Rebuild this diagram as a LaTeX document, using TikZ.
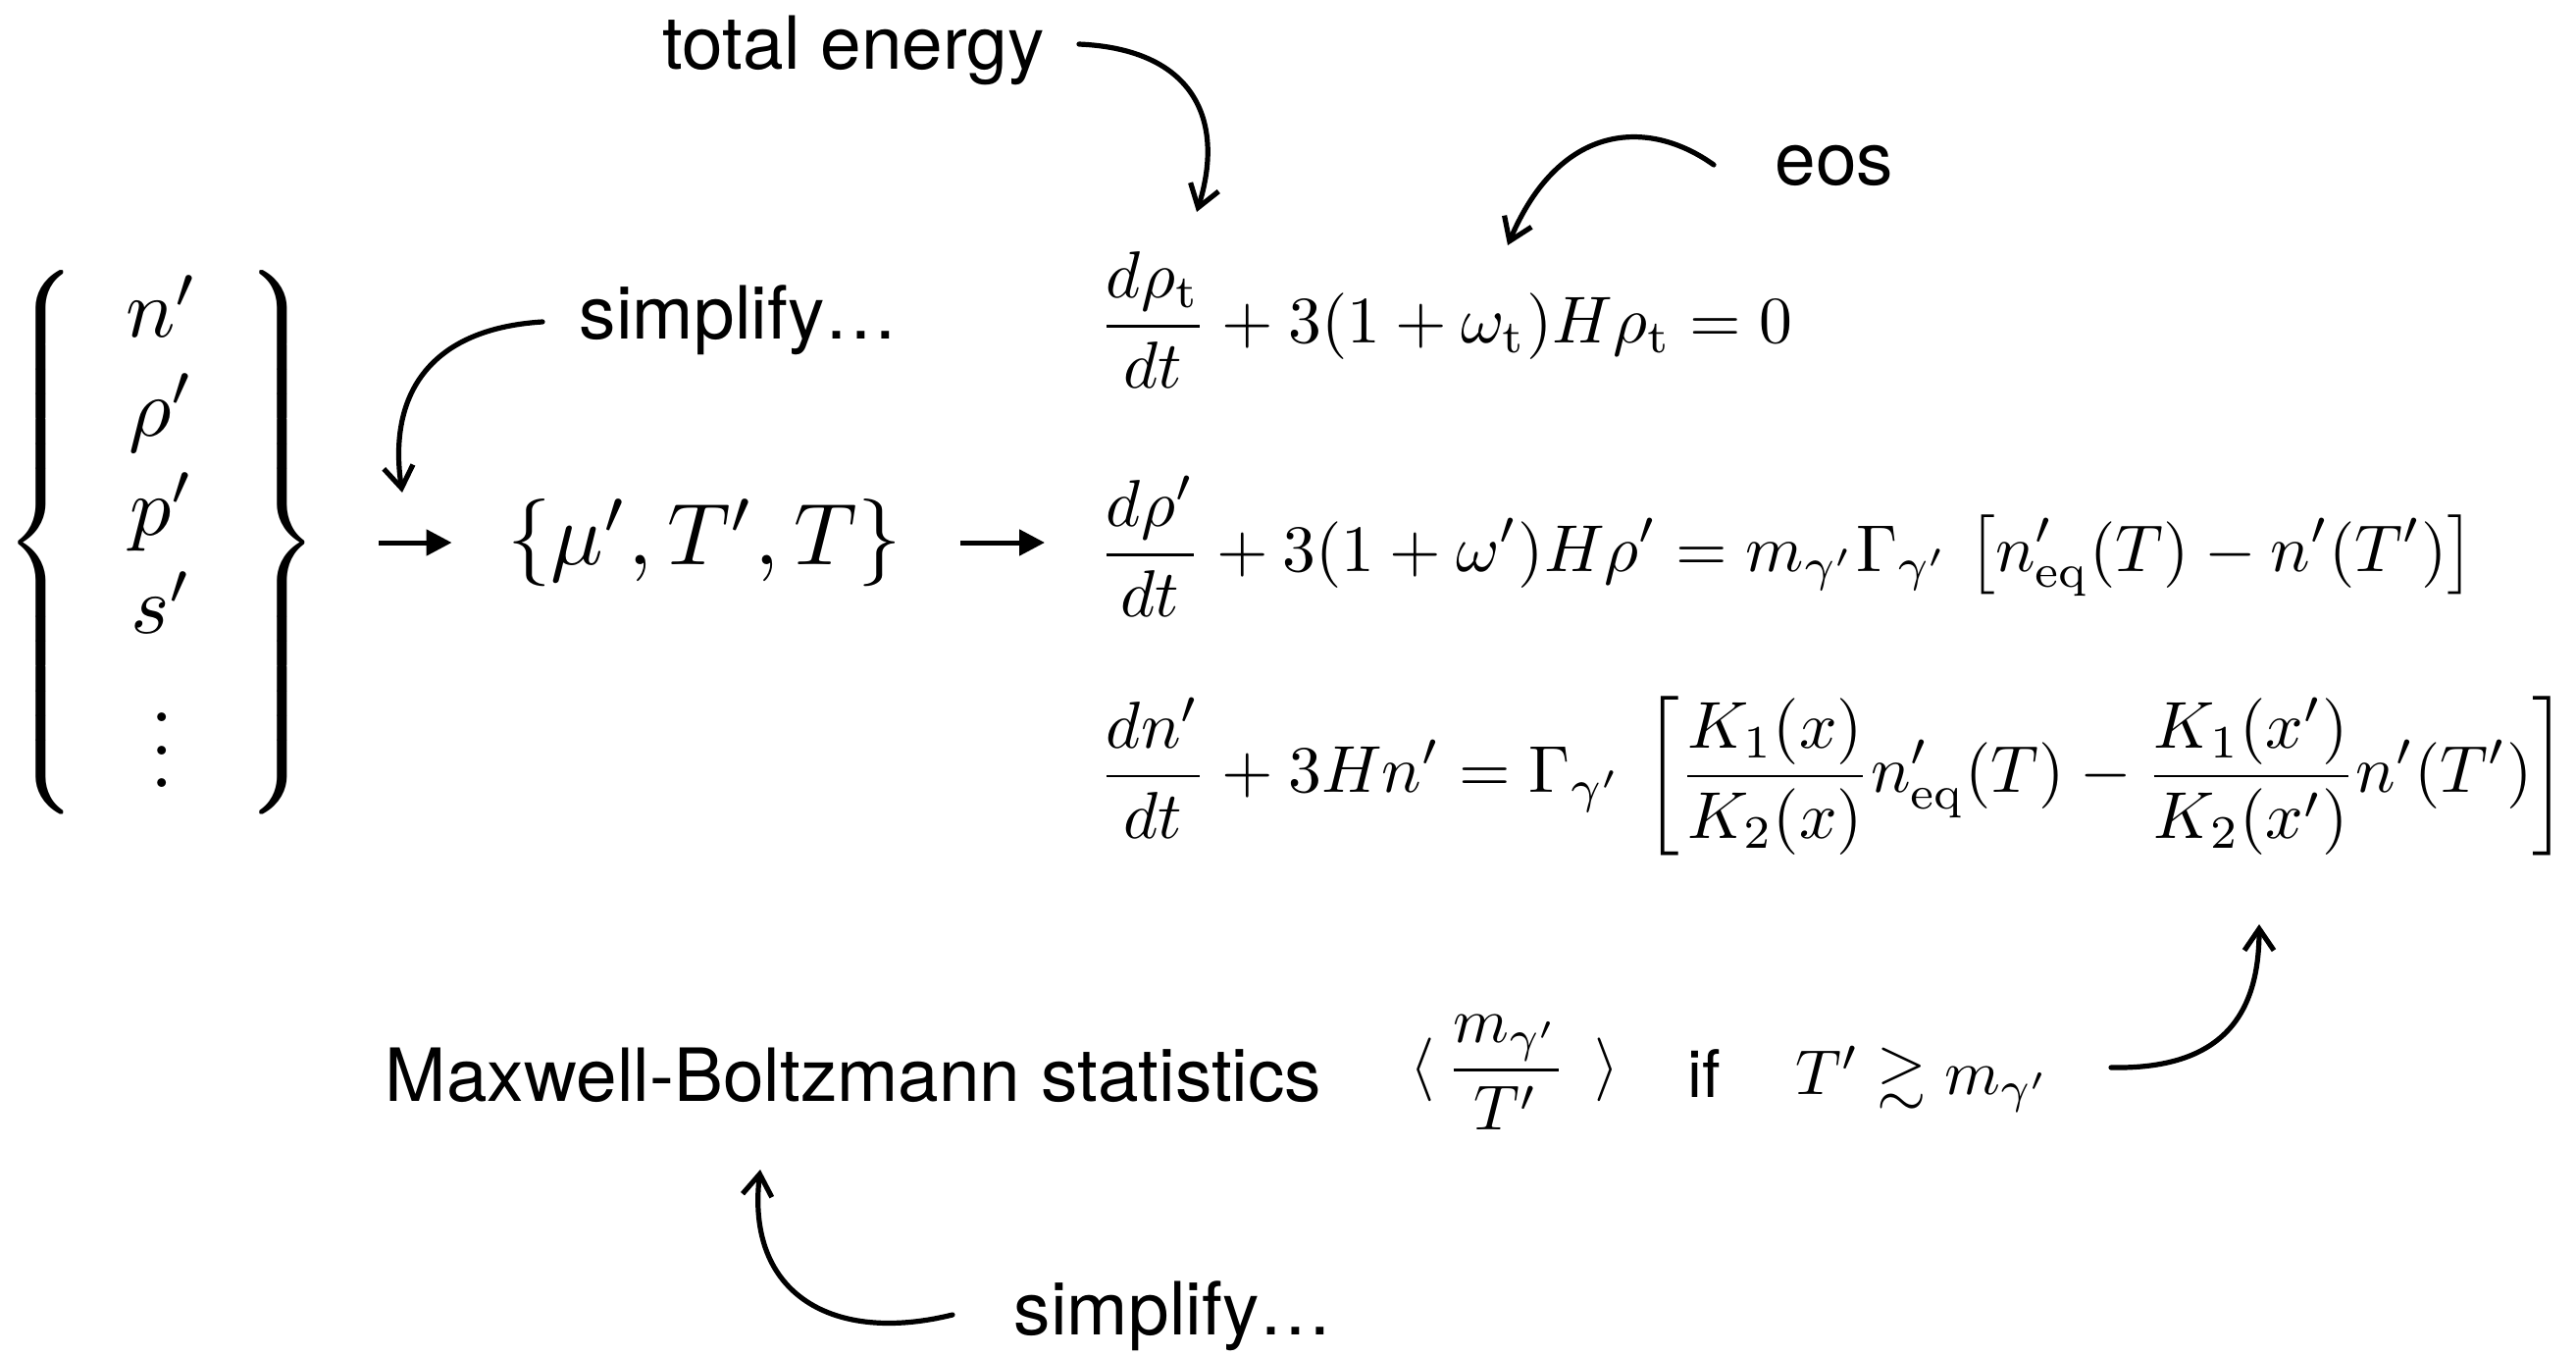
\documentclass[tikz,border=0pt]{standalone}
\usepackage{amsmath,amssymb}
\usepackage{graphicx}
\usepackage{fontspec}
\newfontfamily\labfont{TeX Gyre Heros}
\usetikzlibrary{arrows.meta}
\begin{document}
\begin{tikzpicture}[x=0.25pt,y=-0.25pt,
  lab/.style={font=\labfont\fontsize{18.7}{22}\selectfont, inner sep=0pt, anchor=base west},
  mth/.style={inner sep=0pt},
  carrow/.style={line width=1.3pt, line cap=round, -{Straight Barb[length=5.5pt,width=7.5pt]}},
  harrow/.style={line width=1.25pt, -{Triangle[length=6.5pt,width=6.5pt]}}]
\useasboundingbox (0,0) rectangle (2626,1382);

% labels
\node[lab] (te) at (675,70) {total energy};
\node[lab] (eos) at (1809,188) {eos};
\node[lab] (s1) at (590,345) {simplify…};
\node[lab] (mb) at (392,1122) {Maxwell-Boltzmann statistics};
\node[lab, font=\labfont\fontsize{16.7}{20}\selectfont] (if) at (1720,1118) {if};
\node[lab] (s2) at (1033,1360) {simplify…};

% math
\node[mth] (br) at (165,553) {\scalebox{2.1}{$\left\{\begin{array}{@{\hspace{5.8pt}}c@{\hspace{5.8pt}}} n'\\ \rho'\\ p'\\ s'\\ \vdots \end{array}\right\}$}};
\node[mth] (mu) at (718,553) {\scalebox{2.23}{$\{\mu',T',T\}$}};
\node[mth, anchor=west] (eq1) at (1119,326) {\scalebox{1.69}{$\displaystyle \frac{d\rho_{\mathrm t}}{dt} + 3(1+\omega_{\mathrm t})H\rho_{\mathrm t} = 0$}};
\node[mth, anchor=west] (eq2) at (1119,557) {\scalebox{1.69}{$\displaystyle \frac{d\rho'}{dt} + 3(1+\omega')H\rho' = m_{\gamma'}\Gamma_{\gamma'}\;\big[n'_{\mathrm{eq}}(T) - n'(T')\big]$}};
\node[mth, anchor=west] (eq3) at (1119,791) {\scalebox{1.69}{$\displaystyle \frac{dn'}{dt} + 3Hn' = \Gamma_{\gamma'}\,\left[\frac{K_1(x)}{K_2(x)}n'_{\mathrm{eq}}(T) - \frac{K_1(x')}{K_2(x')}n'(T')\right]$}};
\node[mth, anchor=west] (avg) at (1437,1093) {\scalebox{1.62}{$\displaystyle\langle\,\frac{m_{\gamma'}}{T'}\;\,\rangle$}};
\node[mth, anchor=west] (cond) at (1830,1100) {\scalebox{1.62}{$T'\gtrsim m_{\gamma'}$}};

% straight arrows
\draw[harrow, shorten <=15pt, shorten >=14pt] (br.east) -- (br.east -| mu.west);
\draw[harrow, shorten <=15pt, shorten >=13.5pt] (mu.east) -- (mu.east -| eq2.west);

% curved arrows
\coordinate (teS) at (1100,45);
\coordinate (teE) at (1220,216);
\draw[carrow] (teS) .. controls (1215,50) and (1250,120) .. (teE);
\coordinate (eosS) at (1747,168);
\coordinate (eosE) at (1537,250);
\draw[carrow] (eosS) .. controls (1680,120) and (1590,125) .. (eosE);
\coordinate (s1S) at (553,328);
\coordinate (s1E) at (410,502);
\draw[carrow] (s1S) .. controls (440,335) and (395,400) .. (s1E);
\coordinate (mbS) at (2152,1088);
\coordinate (mbE) at (2303,942);
\draw[carrow] (mbS) .. controls (2260,1090) and (2303,1040) .. (mbE);
\coordinate (s2S) at (971,1340);
\coordinate (s2E) at (775,1192);
\draw[carrow] (s2S) .. controls (850,1370) and (760,1320) .. (s2E);
\end{tikzpicture}
\end{document}
